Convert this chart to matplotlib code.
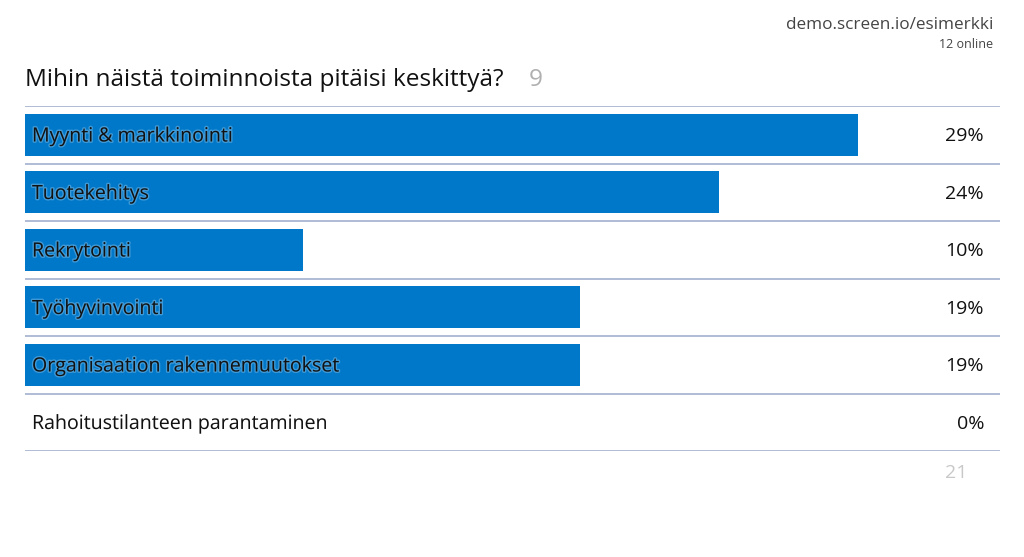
import matplotlib.pyplot as plt
import matplotlib.patheffects as pe
from matplotlib.transforms import blended_transform_factory

plt.rcParams['font.family'] = ['Open Sans', 'DejaVu Sans']

vaihtoehdot = ['Myynti & markkinointi', 'Tuotekehitys', 'Rekrytointi',
               'Työhyvinvointi', 'Organisaation rakennemuutokset',
               'Rahoitustilanteen parantaminen']
aanet = [6, 5, 2, 4, 4, 0]
prosentit = ['29%', '24%', '10%', '19%', '19%', '0%']
kysymys = 'Mihin näistä toiminnoista pitäisi keskittyä?'
vastaajat = 9
aania_yht = 21

W, H = 1024, 557
fig = plt.figure(figsize=(W / 100, H / 100), dpi=100)

# akseli: vasen 25px, oikea 1000px, rivit 106..451px
ax = fig.add_axes([25 / W, 1 - 451 / H, 975 / W, 345 / H])
ax.set_xlim(0, max(aanet) * 975 / 833)
ax.set_ylim(len(vaihtoehdot) - 0.5, -0.5)
ax.axis('off')

ypos = list(range(len(vaihtoehdot)))
ax.barh(ypos, aanet, height=0.73, color='#0078c9', left=0)

for i in range(len(vaihtoehdot) + 1):
    ax.axhline(i - 0.5, color='#a9b5d2', lw=1.3)

trans = blended_transform_factory(ax.transAxes, ax.transData)
halo = [pe.withStroke(linewidth=2, foreground='#ffffff', alpha=0.25)]
for y, nimi, p in zip(ypos, vaihtoehdot, prosentit):
    ax.text(7 / 975, y + 0.03, nimi, transform=trans, va='center', ha='left',
            fontsize=14.1, color='#111111', path_effects=halo)
    ax.text(959 / 975, y + 0.03, p, transform=trans, va='center', ha='right',
            fontsize=14, color='#111111')

fig.text(25 / W, 1 - 80 / H, kysymys, fontsize=17.6, color='#111111',
         va='center', ha='left')
fig.text(529 / W, 1 - 80 / H, str(vastaajat), fontsize=17.6, color='#b0b0b0',
         va='center', ha='left')
fig.text(993 / W, 1 - 25 / H, 'demo.screen.io/esimerkki', fontsize=12.3,
         color='#444444', va='center', ha='right')
fig.text(993 / W, 1 - 45 / H, '12 online', fontsize=9, color='#444444',
         va='center', ha='right')
fig.text(967 / W, 1 - 473 / H, str(aania_yht), fontsize=14, color='#c8c8c8',
         va='center', ha='right')

fig.savefig('out.png', dpi=100, facecolor='white')
